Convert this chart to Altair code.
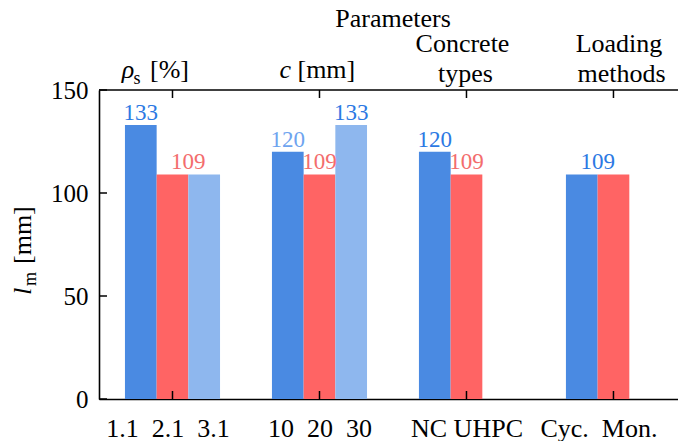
import json
import altair as alt
import pandas as pd

# ---------------- data ----------------
group_index = [0, 1, 2, 3]
bar_group = [0, 0, 0, 1, 1, 1, 2, 2, 3, 3]
bar_slot = [0, 1, 2, 0, 1, 2, 0, 1, 0, 1]
bar_value = [133, 109, 109, 120, 109, 133, 120, 109, 109, 109]
bar_series = ["A", "B", "C", "A", "B", "C", "A", "B", "A", "B"]

label_group = [0, 0, 1, 1, 1, 2, 2, 3]
label_slot = [0, 1.5, 0, 1, 2, 0, 1, 0.5]
label_value = [133, 109, 120, 109, 133, 120, 109, 109]
label_tone = ["blue", "red", "light", "red", "blue", "blue", "red", "blue"]

bottom_tick_labels = ["1.1  2.1  3.1", "10  20  30", "NC UHPC", "Cyc.  Mon."]
y_tick_values = [0, 50, 100, 150]
top_title = "Parameters"
top_line1 = ["", "", "Concrete", "Loading"]
top_line2 = ["", "", "types", "methods"]

# ---------------- style ----------------
FONT = "Liberation Serif"
W, H = 579, 309
BW = 0.2156
X_DOMAIN = [-0.5, 3.439]
SERIES_COLORS = {"A": "#4a8ae2", "B": "#ff6464", "C": "#8eb7ee"}
TONE_COLORS = {"blue": "#2c79e3", "red": "#f36d6d", "light": "#6ea4ef"}
AX = 1.6

xscale = alt.Scale(domain=X_DOMAIN, nice=False, zero=False)
yscale = alt.Scale(domain=[0, 150], nice=False, zero=True)

bars_df = pd.DataFrame({"g": bar_group, "s": bar_slot, "value": bar_value, "series": bar_series})
bars_df["c"] = bars_df["g"] + (bars_df["s"] - 1) * BW
bars_df["x0"] = bars_df["c"] - BW / 2
bars_df["x1"] = bars_df["c"] + BW / 2
bars_df["hex"] = bars_df["series"].map(SERIES_COLORS)

labels_df = pd.DataFrame({"g": label_group, "s": label_slot, "value": label_value, "tone": label_tone})
labels_df["x"] = labels_df["g"] + (labels_df["s"] - 1) * BW
labels_df["hex"] = labels_df["tone"].map(TONE_COLORS)

NB = "\u00a0"
bl = [s.replace(" ", NB) for s in bottom_tick_labels]
label_expr = "[" + ",".join(json.dumps(s, ensure_ascii=False) for s in bl) + "][datum.value]"

X_AXIS = alt.Axis(
    values=group_index, labelExpr=label_expr, ticks=False, grid=False, title=None,
    domainColor="black", domainWidth=AX, labelFont=FONT, labelFontSize=26,
    labelColor="black", labelPadding=16, labelFlush=False, labelOverlap=False,
    labelBound=False,
    labelOffset={"condition": [{"test": "datum.value === 0", "value": -5},
                               {"test": "datum.value === 3", "value": -15}],
                 "value": 0},
)
Y_AXIS = alt.Axis(
    values=y_tick_values, ticks=False, grid=False, title=None,
    domainColor="black", domainWidth=AX, labelFont=FONT, labelFontSize=25,
    labelColor="black", labelPadding=11, labelFlush=False, labelOverlap=False,
)

bars = alt.Chart(bars_df).mark_bar().encode(
    x=alt.X("x0:Q", scale=xscale, axis=X_AXIS),
    x2="x1:Q",
    y=alt.Y("value:Q", scale=yscale, axis=Y_AXIS),
    y2=alt.datum(0),
    color=alt.Color("hex:N", scale=None),
)

value_labels = alt.Chart(labels_df).mark_text(
    font=FONT, fontSize=23, baseline="alphabetic", dy=-5
).encode(
    x=alt.X("x:Q", scale=xscale, axis=X_AXIS),
    y=alt.Y("value:Q", scale=yscale, axis=Y_AXIS),
    text=alt.Text("value:Q"),
    color=alt.Color("hex:N", scale=None),
)

ticks_df = pd.DataFrame({"g": group_index})
bottom_ticks = alt.Chart(ticks_df).mark_rule(color="black", strokeWidth=1.5).encode(
    x=alt.X("g:Q", scale=xscale, axis=X_AXIS), y=alt.value(H), y2=alt.value(H - 8))
top_ticks = alt.Chart(ticks_df).mark_rule(color="black", strokeWidth=1.5).encode(
    x=alt.X("g:Q", scale=xscale, axis=X_AXIS), y=alt.value(0), y2=alt.value(8))
yt_df = pd.DataFrame({"v": y_tick_values})
left_ticks = alt.Chart(yt_df).mark_rule(color="black", strokeWidth=1.5).encode(
    y=alt.Y("v:Q", scale=yscale, axis=Y_AXIS), x=alt.value(0), x2=alt.value(8))
top_line = alt.Chart(pd.DataFrame({"a": [0]})).mark_rule(color="black", strokeWidth=AX).encode(
    x=alt.value(0), x2=alt.value(W), y=alt.value(0))

one = pd.DataFrame({"a": [0]})


def group_text(g, text, y, size=26, italic=False, align="center", dx=0):
    d = pd.DataFrame({"g": [g]})
    return alt.Chart(d).mark_text(
        font=FONT, fontSize=size, fontStyle="italic" if italic else "normal",
        align=align, baseline="alphabetic", dx=dx, color="black"
    ).encode(x=alt.X("g:Q", scale=xscale, axis=X_AXIS), y=alt.value(y), text=alt.value(text))


def free_text(text, x, y, size=26, italic=False, align="center", angle=0):
    return alt.Chart(one).mark_text(
        font=FONT, fontSize=size, fontStyle="italic" if italic else "normal",
        align=align, baseline="alphabetic", angle=angle, color="black"
    ).encode(x=alt.value(x), y=alt.value(y), text=alt.value(text))


top_texts = [
    group_text(0, "ρ", -12, italic=True, align="left", dx=-50.8),
    group_text(0, "s", -6.5, size=18, align="left", dx=-39),
    group_text(0, "[%]", -12, align="left", dx=-22.5),
    group_text(1, "c", -12, italic=True, align="left", dx=-40),
    group_text(1, "[mm]", -12, align="left", dx=-22),
    group_text(2, top_line1[2], -38.5, dx=-4),
    group_text(2, top_line2[2], -8.5, dx=-1),
    group_text(3, top_line1[3], -38.5, dx=5.5),
    group_text(3, top_line2[3], -8.5, dx=8),
    free_text(top_title, 294, -63.5),
]

y_title = [
    free_text("l", -68, 205, italic=True, align="left", angle=270),
    free_text("m", -63, 196, size=18, align="left", angle=270),
    free_text("[mm]", -68, 174, align="left", angle=270),
]

chart = alt.layer(
    bars, value_labels, bottom_ticks, top_ticks, left_ticks, top_line, *top_texts, *y_title
).properties(
    width=W, height=H,
    autosize=alt.AutoSizeParams(type="none"),
    padding={"left": 99, "top": 90, "right": 0, "bottom": 42},
).configure_view(stroke=None)

chart.save("out.html", embed_options={"renderer": "svg", "actions": False})
